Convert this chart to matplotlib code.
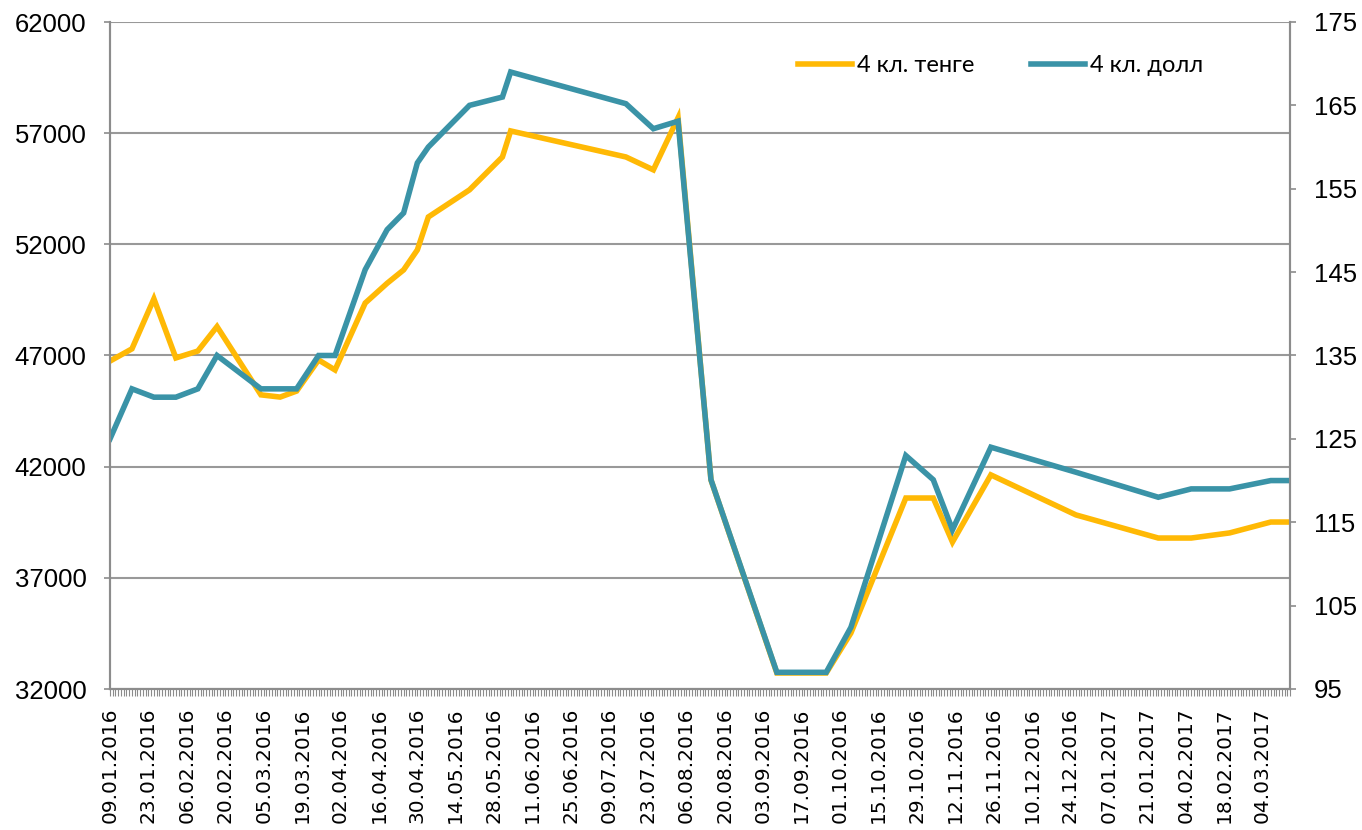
import matplotlib
matplotlib.use("Agg")
import matplotlib.pyplot as plt
import matplotlib.dates as mdates
import pandas as pd

# observation dates and prices
dates = [
    "2016-01-09", "2016-01-17", "2016-01-25", "2016-02-02", "2016-02-10",
    "2016-02-17", "2016-03-04", "2016-03-11", "2016-03-17", "2016-03-25",
    "2016-03-31", "2016-04-11", "2016-04-19", "2016-04-25", "2016-04-30",
    "2016-05-04", "2016-05-19", "2016-05-31", "2016-06-03", "2016-07-15",
    "2016-07-25", "2016-08-03", "2016-08-15", "2016-09-08", "2016-09-26",
    "2016-10-05", "2016-10-25", "2016-11-04", "2016-11-11", "2016-11-25",
    "2016-12-26", "2017-01-25", "2017-02-06", "2017-02-20", "2017-03-07",
    "2017-03-14",
]
tenge = [
    46750, 47300, 49550, 46890, 47200,
    48300, 45230, 45130, 45400, 46800,
    46350, 49360, 50250, 50850, 51750,
    53230, 54450, 55930, 57100, 55930,
    55350, 57690, 41400, 32720, 32720,
    34520, 40590, 40590, 38610, 41630,
    39830, 38790, 38790, 39020, 39510,
    39510,
]
dollar = [
    125, 131, 130, 130, 131,
    135, 131, 131, 131, 135,
    135, 145.3, 150.1, 152.1, 158.1,
    160, 165, 166, 169, 165.2,
    162.2, 163.1, 120.1, 97, 97,
    102.4, 123, 120.1, 114.1, 124,
    121, 118, 119, 119, 120,
    120,
]
left_ticks = [32000, 37000, 42000, 47000, 52000, 57000, 62000]
right_ticks = [95, 105, 115, 125, 135, 145, 155, 165, 175]

x = pd.to_datetime(dates)
tick_dates = pd.date_range("2016-01-09", "2017-03-04", freq="14D")
tick_labels = [d.strftime("%d.%m.%Y") for d in tick_dates]

yellow = "#FFB905"
teal = "#3A93A7"
grey = "#8C8C8C"

fig = plt.figure(figsize=(13.62, 8.30), dpi=100)
ax = fig.add_axes([110 / 1362, 1 - 689 / 830, 1180 / 1362, 667 / 830])
ax2 = ax.twinx()

l1, = ax.plot(x, tenge, color=yellow, lw=4, solid_joinstyle="miter")
l2, = ax2.plot(x, dollar, color=teal, lw=4, solid_joinstyle="miter")

ax.set_xlim(x[0], x[-1])
ax.set_ylim(32000, 62000)
ax2.set_ylim(95, 175)
ax.yaxis.grid(True, color="#999999", lw=1.5)
ax.set_axisbelow(True)

# date labels every two weeks, a small tick for every day
ax.set_xticks(tick_dates, labels=tick_labels, rotation=90,
              fontfamily="DejaVu Sans", fontsize=14.5)
ax.xaxis.set_minor_locator(mdates.DayLocator())
ax.tick_params(axis="x", which="both", direction="out", length=5, width=0.8,
               color=grey, pad=8.5)

ax.set_yticks(left_ticks, labels=[str(v) for v in left_ticks],
              fontfamily="Liberation Sans", fontsize=18.5)
ax2.set_yticks(right_ticks, labels=[str(v) for v in right_ticks],
               fontfamily="Liberation Sans", fontsize=18.5)
for a in (ax, ax2):
    a.tick_params(axis="y", direction="out", length=4.5, width=1.2,
                  color=grey, pad=12.5)
    for s in a.spines.values():
        s.set_color(grey)
        s.set_linewidth(1.5)
    a.spines["top"].set_visible(False)

leg = ax2.legend([l1, l2], ["4 кл. тенге", "4 кл. долл"], loc="center left",
                 bbox_to_anchor=(798 / 1362, 1 - 66 / 830),
                 bbox_transform=fig.transFigure, ncol=2, frameon=False,
                 borderpad=0, borderaxespad=0, handlelength=2.3,
                 handletextpad=0.2, columnspacing=2.4,
                 prop={"family": "Lato", "size": 17})

fig.savefig("out.png", dpi=100)
